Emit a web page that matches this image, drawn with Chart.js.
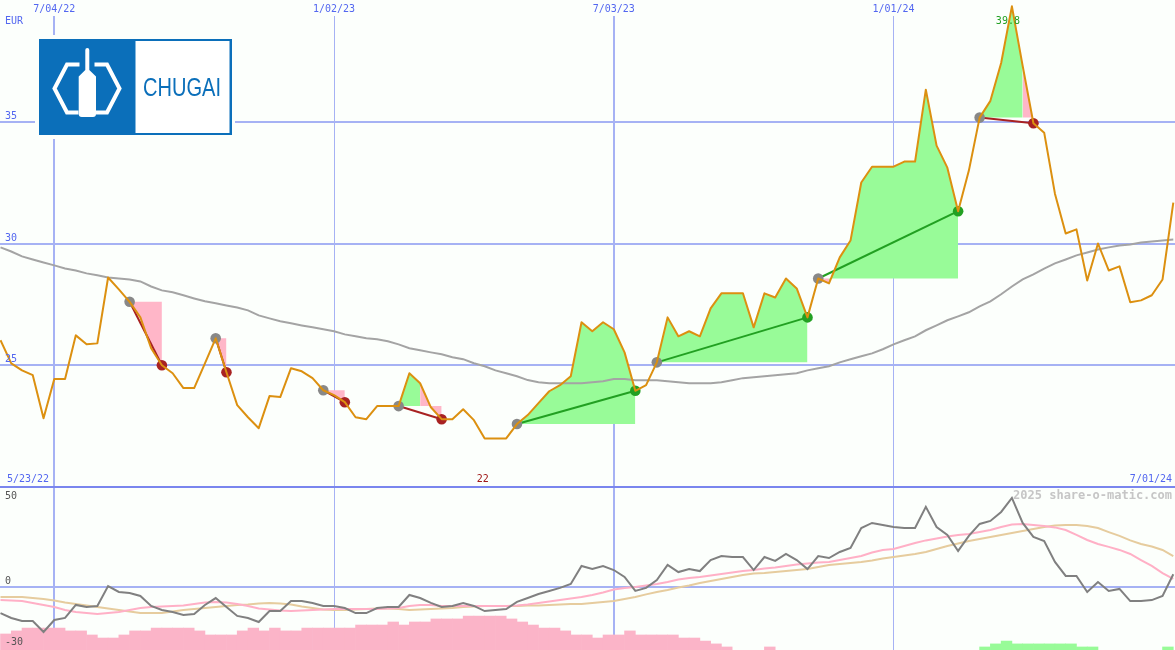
<!DOCTYPE html>
<html><head><meta charset="utf-8">
<script src="https://cdn.jsdelivr.net/npm/chart.js@4.4.1/dist/chart.umd.min.js"></script>
<style>html,body{margin:0;padding:0;background:#fcfffc;overflow:hidden}canvas{display:block}</style>
</head><body>
<canvas id="c" width="1175" height="650"></canvas>
<script>
// ---- data (weekly closes, first week = 5/30/22) ----
const xTickLabels = ['7/04/22','1/02/23','7/03/23','1/01/24'];
const xTickWeeks  = [5, 31, 57, 83];
const windowStartLabel = '5/23/22';
const windowEndLabel = '7/01/24';
const currency = 'EUR';
const priceTicks = [20, 25, 30, 35];
const oscTickLabels = ['50', '0', '-30'];
const watermark = '2025 share-o-matic.com';

const price = [26.04,25.09,24.80,24.60,22.83,24.44,24.44,26.24,25.87,25.91,
 28.62,28.13,27.62,26.98,25.71,25.01,24.68,24.07,24.07,25.09,
 26.12,24.72,23.37,22.87,22.42,23.74,23.70,24.89,24.76,24.48,
 23.98,23.78,23.49,22.87,22.79,23.33,23.33,23.33,24.68,24.27,
 23.28,22.79,22.79,23.20,22.75,22.00,22.00,22.00,22.59,22.96,
 23.45,23.94,24.19,24.56,26.78,26.41,26.78,26.49,25.54,23.96,
 24.19,25.13,26.98,26.20,26.41,26.20,27.35,27.97,27.97,27.97,
 26.57,27.97,27.80,28.58,28.17,26.98,28.58,28.38,29.45,30.14,
 32.53,33.18,33.18,33.18,33.39,33.39,36.35,34.05,33.14,31.35,
 33.02,35.20,35.89,37.45,39.78,37.33,34.97,34.58,32.07,30.43,
 30.60,28.50,30.02,28.91,29.08,27.60,27.68,27.89,28.54,31.70];

const movingAvg = [29.86,29.69,29.49,29.36,29.24,29.12,28.99,28.91,28.79,28.71,
 28.62,28.58,28.54,28.46,28.25,28.09,28.01,27.89,27.76,27.64,
 27.56,27.47,27.39,27.27,27.06,26.94,26.82,26.74,26.65,26.57,
 26.49,26.41,26.28,26.20,26.12,26.08,26.00,25.87,25.71,25.63,
 25.54,25.46,25.34,25.26,25.09,24.97,24.80,24.68,24.56,24.40,
 24.31,24.27,24.27,24.27,24.27,24.31,24.35,24.44,24.44,24.39,
 24.39,24.39,24.35,24.31,24.27,24.27,24.27,24.31,24.39,24.48,
 24.52,24.56,24.60,24.64,24.68,24.80,24.89,24.97,25.13,25.26,
 25.38,25.50,25.67,25.87,26.04,26.20,26.45,26.65,26.86,27.02,
 27.19,27.43,27.64,27.93,28.25,28.54,28.75,28.99,29.20,29.36,
 29.53,29.65,29.77,29.86,29.94,29.98,30.06,30.10,30.14,30.18];

const momentum = [-12.6,-15.0,-16.5,-16.5,-21.9,-16.0,-15.0,-8.6,-9.6,-9.1,
 0.7,-2.2,-2.7,-4.2,-9.1,-11.1,-12.1,-13.5,-13.1,-8.6,
 -5.2,-9.6,-14.0,-15.0,-17.0,-11.6,-11.6,-6.7,-6.7,-7.6,
 -9.1,-9.1,-10.1,-12.6,-12.6,-10.1,-9.6,-9.6,-3.7,-5.2,
 -7.6,-9.6,-9.1,-7.6,-9.1,-11.6,-11.1,-10.6,-7.1,-5.2,
 -3.2,-1.7,-0.2,1.7,10.6,9.1,10.6,8.6,5.2,-1.7,
 -0.2,3.7,11.1,7.6,9.1,8.1,13.5,15.5,15.0,15.0,
 8.6,15.0,13.1,16.5,13.5,9.1,15.5,14.5,17.5,19.5,
 29.3,31.8,30.8,29.8,29.3,29.3,39.7,29.8,25.9,18.0,
 25.4,31.3,32.8,37.2,44.1,31.8,24.9,22.9,12.6,5.7,
 5.7,-2.2,2.7,-1.7,-0.7,-6.7,-6.7,-6.2,-4.2,6.5];

const oscFast = [-6.2,-6.4,-6.7,-7.6,-8.6,-9.6,-11.1,-12.1,-12.6,-13.1,
 -12.6,-12.1,-11.1,-10.1,-9.6,-9.4,-9.1,-8.9,-8.1,-7.4,
 -7.1,-7.4,-8.1,-9.1,-10.3,-10.8,-11.3,-11.6,-11.3,-11.1,
 -10.8,-10.6,-10.6,-10.6,-10.6,-10.6,-10.3,-10.1,-9.1,-8.6,
 -8.6,-9.1,-9.1,-9.1,-9.1,-9.1,-9.1,-9.1,-8.9,-8.4,
 -7.6,-6.9,-6.2,-5.4,-4.7,-3.7,-2.5,-1.0,-0.2,0.2,
 1.0,1.7,2.7,3.9,4.7,5.2,5.9,6.7,7.4,8.1,
 8.6,9.4,9.9,10.6,11.3,11.8,12.3,12.6,13.5,14.5,
 15.5,17.2,18.5,19.0,20.4,21.9,23.2,24.1,25.1,25.9,
 26.4,27.3,28.3,29.8,31.0,31.3,30.8,30.3,29.6,28.3,
 25.9,23.4,21.4,20.0,18.5,16.5,13.5,10.6,7.1,4.2];

const oscSlow = [-4.7,-4.7,-4.7,-5.2,-5.7,-6.4,-7.4,-8.1,-8.9,-9.6,
 -10.3,-11.1,-11.8,-12.6,-12.6,-12.6,-11.8,-11.1,-10.6,-10.1,
 -9.6,-9.1,-8.6,-8.4,-7.9,-7.6,-7.9,-8.4,-9.4,-10.1,
 -10.8,-11.1,-11.1,-10.8,-10.6,-10.3,-10.3,-10.6,-11.1,-10.8,
 -10.6,-10.3,-10.1,-9.6,-9.4,-9.1,-9.1,-9.1,-9.1,-8.9,
 -8.9,-8.6,-8.4,-8.1,-8.1,-7.6,-7.1,-6.7,-5.7,-4.7,
 -3.4,-2.2,-1.2,0.0,1.0,2.2,3.2,4.2,5.2,6.2,
 6.9,7.1,7.6,8.1,8.6,9.1,10.1,11.1,11.6,12.1,
 12.6,13.3,14.3,15.0,15.8,16.5,17.5,19.0,20.4,21.7,
 22.9,23.9,24.9,25.9,26.8,27.8,28.8,29.8,30.5,30.8,
 30.8,30.3,29.3,27.3,25.4,23.2,21.4,20.2,18.5,15.5];

const histogram = [-7.9,-9.4,-10.8,-10.8,-10.8,-10.8,-9.4,-9.4,-7.4,-5.9,
 -5.9,-7.4,-9.4,-9.4,-10.8,-10.8,-10.8,-10.8,-9.4,-7.4,
 -7.4,-7.4,-9.4,-10.8,-9.4,-10.8,-9.4,-9.4,-10.8,-10.8,
 -10.8,-10.8,-10.8,-12.3,-12.3,-12.3,-13.8,-12.3,-13.8,-13.8,
 -15.3,-15.3,-15.3,-16.7,-16.7,-16.7,-16.7,-15.3,-13.8,-12.3,
 -10.8,-10.8,-9.4,-7.4,-7.4,-5.9,-7.4,-7.4,-9.4,-7.4,
 -7.4,-7.4,-7.4,-5.9,-5.9,-4.4,-3.0,-1.5,0,0,
 0,-1.5,0,0,0,0,0,0,0,0,
 0,0,0,0,0,0,0,0,0,0,
 0,1.5,3.0,4.4,3.0,3.0,3.0,3.0,3.0,3.0,
 1.5,1.5,0,0,0,0,0,0,1.5,0];

const tradeEntry = [12, 20, 30, 37, 48, 61, 76, 91];
const tradeExit  = [15, 21, 32, 41, 59, 75, 89, 96];

// ---- styles ----
const BG = '#fcfffc', GRID = '#a6b2f4', SEP = '#7a86ee', BLUE_TXT = '#5367f0';
const ORANGE = '#dc9010', MA_GRAY = '#a4a4a4';
const FILL_GREEN = '#98fb98', FILL_PINK = '#ffb6c8';
const RED = '#a82222', GREEN = '#22a022', PT_GRAY = '#888888';
const Y2MIN = -30.79, Y2MAX = 49.5;

const datasets = [];
datasets.push({type:'line', yAxisID:'y', data: price.map((v,i)=>({x:i,y:v})),
  borderColor: ORANGE, borderWidth: 2, pointRadius: 0, tension: 0, fill: false, order: 0, borderJoinStyle: 'round'});
tradeEntry.forEach((e, t) => {
  const xx = tradeExit[t];
  const win = price[xx] > price[e];
  datasets.push({type:'line', yAxisID:'y', data: [{x:e, y:price[e]}, {x:xx, y:price[xx]}],
    borderColor: win ? GREEN : RED, borderWidth: 2, tension: 0, fill: false,
    pointRadius: 5.3, pointBorderWidth: 0, pointBackgroundColor: [PT_GRAY, win ? GREEN : RED], order: 1});
  const entryVal = price[e];
  const seg = [];
  for (let i = e; i <= xx; i++) seg.push({x:i, y:price[i]});
  datasets.push({type:'line', yAxisID:'y', data: seg, fill: {value: entryVal},
    borderColor: 'rgba(0,0,0,0)', borderWidth: 0, pointRadius: 0, tension: 0,
    backgroundColor: FILL_PINK,
    segment: { backgroundColor: c => c.p1.parsed.y >= entryVal ? FILL_GREEN : FILL_PINK },
    order: 4});
});
datasets.push({type:'line', yAxisID:'y', data: movingAvg.map((v,i)=>({x:i,y:v})),
  borderColor: MA_GRAY, borderWidth: 2, pointRadius: 0, tension: 0, fill: false, order: 3});
// lower panel
datasets.push({type:'line', yAxisID:'y2', data: momentum.map((v,i)=>({x:i,y:v})),
  borderColor: '#808080', borderWidth: 2, pointRadius: 0, tension: 0, fill: false, order: 5});
datasets.push({type:'line', yAxisID:'y2', data: oscFast.map((v,i)=>({x:i,y:v})),
  borderColor: '#ffb0c6', borderWidth: 2, pointRadius: 0, tension: 0, fill: false, order: 6});
datasets.push({type:'line', yAxisID:'y2', data: oscSlow.map((v,i)=>({x:i,y:v})),
  borderColor: '#e6cc9e', borderWidth: 2, pointRadius: 0, tension: 0, fill: false, order: 7});
const barData = [], barColors = [];
histogram.forEach((h, i) => {
  if (h === 0) return;
  barData.push({x: i + 0.5, y: [Y2MIN, Y2MIN + Math.abs(h)]});
  barColors.push(h < 0 ? '#fbb4c8' : FILL_GREEN);
});
datasets.push({type:'bar', yAxisID:'y2', data: barData, backgroundColor: barColors,
  borderWidth: 0, barPercentage: 1, categoryPercentage: 1, order: 8});

const minIdx = price.indexOf(Math.min(...price));
const maxIdx = price.indexOf(Math.max(...price));
const fmt = v => String(Number(v.toFixed(1)));

function drawLogo(c) {
  const B = '#0b6fba';
  c.save();
  c.fillStyle = BG; c.fillRect(35, 35, 200, 104);
  c.fillStyle = B; c.fillRect(39, 39, 193, 96);
  c.fillStyle = '#ffffff'; c.fillRect(135.5, 41, 94, 92);
  c.strokeStyle = '#ffffff'; c.lineWidth = 4; c.lineJoin = 'miter'; c.lineCap = 'butt';
  c.beginPath(); c.moveTo(79.5,64.5); c.lineTo(67,64.5); c.lineTo(54.5,88.5); c.lineTo(67,112.5); c.lineTo(78.5,112.5); c.stroke();
  c.beginPath(); c.moveTo(94.5,64.5); c.lineTo(107,64.5); c.lineTo(119.5,88.5); c.lineTo(107,112.5); c.lineTo(95.5,112.5); c.stroke();
  c.fillStyle = '#ffffff';
  c.beginPath();
  c.moveTo(85.3,70); c.lineTo(85.3,50); c.arc(87.3,50,2,Math.PI,0); c.lineTo(89.3,70);
  c.lineTo(96,76.5); c.lineTo(96,114); c.quadraticCurveTo(96,117,93,117); c.lineTo(81.7,117);
  c.quadraticCurveTo(78.7,117,78.7,114); c.lineTo(78.7,76.5); c.closePath(); c.fill();
  c.fillStyle = B; c.font = '25px "Liberation Sans", Arial, sans-serif';
  c.textAlign = 'center'; c.textBaseline = 'alphabetic';
  const w = c.measureText('CHUGAI').width;
  c.translate(182, 96); c.scale(78 / w, 1); c.fillText('CHUGAI', 0, 0);
  c.restore();
}

const decor = {
  id: 'decor',
  beforeDraw(chart) { const c = chart.ctx; c.save(); c.fillStyle = BG; c.fillRect(0,0,chart.width,chart.height); c.restore(); },
  beforeDatasetsDraw(chart) { const c = chart.ctx; c.save(); c.fillStyle = BG; c.fillRect(0,0,chart.width,16); c.restore(); },
  afterDraw(chart) {
    const c = chart.ctx, {x, y, y2} = chart.scales;
    drawLogo(c);
    c.save();
    c.font = '10px "DejaVu Sans Mono", monospace';
    c.textBaseline = 'middle';
    c.fillStyle = BLUE_TXT; c.textAlign = 'center';
    xTickWeeks.forEach((wk, i) => c.fillText(xTickLabels[i], x.getPixelForValue(wk), 9));
    c.textAlign = 'left';
    c.fillText(currency, 5, 21);
    priceTicks.slice(1).forEach(v => c.fillText(String(v), 5, y.getPixelForValue(v) - 6));
    c.fillText(windowStartLabel, 7, y.bottom - 8);
    c.textAlign = 'right';
    c.fillText(windowEndLabel, 1172, y.bottom - 8);
    c.textAlign = 'center';
    c.fillStyle = '#a01818';
    c.fillText(fmt(price[minIdx]), x.getPixelForValue(minIdx) - 2, y.bottom - 8);
    c.fillStyle = GREEN;
    c.fillText(fmt(price[maxIdx]), x.getPixelForValue(maxIdx) - 4, 21);
    c.fillStyle = '#555555'; c.textAlign = 'left';
    c.fillText(oscTickLabels[0], 5, y2.top + 9);
    c.fillText(oscTickLabels[1], 5, y2.getPixelForValue(0) - 6);
    c.fillText(oscTickLabels[2], 5, y2.bottom - 8);
    c.font = 'bold 12px "DejaVu Sans Mono", monospace';
    c.fillStyle = '#c6c6c6'; c.textAlign = 'right';
    c.fillText(watermark, 1172, y2.top + 9);
    c.restore();
  }
};

new Chart(document.getElementById('c'), {
  type: 'line',
  data: { datasets },
  options: {
    responsive: false, animation: false, devicePixelRatio: 1, events: [],
    layout: { padding: 0, autoPadding: false },
    plugins: { legend: {display:false}, tooltip: {enabled:false} },
    scales: {
      x: { type: 'linear', min: -0.0465, max: 109.158, position: 'bottom', offset: false,
        ticks: {display: false}, border: {display: false},
        grid: { drawTicks: false, offset: false, color: GRID,
          lineWidth: c => (xTickLabels[c.index] || '').startsWith('7/') ? 2 : 1 },
        afterBuildTicks: s => { s.ticks = xTickWeeks.map(v => ({value: v})); } },
      y2: { type: 'linear', position: 'left', stack: 'panels', stackWeight: 163, min: Y2MIN, max: Y2MAX,
        ticks: {display: false}, border: {display: false},
        grid: { drawTicks: false, lineWidth: 2, color: GRID },
        afterBuildTicks: s => { s.ticks = [{value: 0}]; } },
      y: { type: 'linear', position: 'left', stack: 'panels', stackWeight: 487, min: 20, max: 40.04,
        ticks: {display: false}, border: {display: false},
        grid: { drawTicks: false, lineWidth: 2, color: c => (c.tick && c.tick.value === 20) ? SEP : GRID },
        afterBuildTicks: s => { s.ticks = priceTicks.map(v => ({value: v})); } }
    }
  },
  plugins: [decor]
});
</script>
</body></html>
